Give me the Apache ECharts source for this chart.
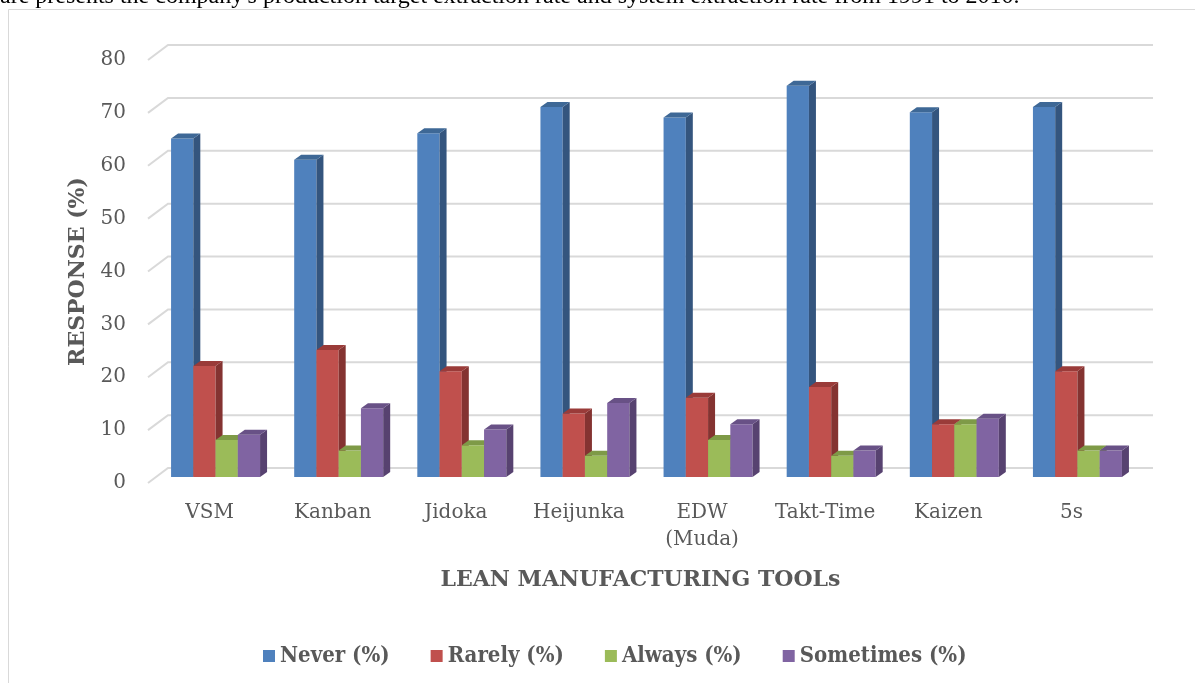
<!DOCTYPE html>
<html>
<head>
<meta charset="utf-8">
<script src="https://cdn.jsdelivr.net/npm/echarts@6/dist/echarts.min.js"></script>
<style>
  html, body { margin: 0; padding: 0; background: #fff; }
  #main { width: 1195px; height: 683px; }
</style>
</head>
<body>
<div id="main"></div>
<script>
// data
var categories = ['VSM', 'Kanban', 'Jidoka', 'Heijunka', 'EDW\n(Muda)', 'Takt-Time', 'Kaizen', '5s'];
var never     = [64, 60, 65, 70, 68, 74, 69, 70];
var rarely    = [21, 24, 20, 12, 15, 17, 10, 20];
var always    = [7, 5, 6, 4, 7, 4, 10, 5];
var sometimes = [8, 13, 9, 14, 10, 5, 11, 5];
var yTicks    = [0, 10, 20, 30, 40, 50, 60, 70, 80];
var seriesNames = ['Never (%)', 'Rarely (%)', 'Always (%)', 'Sometimes (%)'];

var gray = '#595959';
var serif = '"DejaVu Serif", serif';
var chart = echarts.init(document.getElementById('main'));

// 3d-ish column, like the excel one
function bar3d(idx, front, side, top) {
  return function (params, api) {
    var cat = api.value(0), v = api.value(1);
    var base = api.coord([cat, 0]), tp = api.coord([cat, v]);
    var bw = 22.25, dx = 7, dy = -5;
    var x0 = base[0] + 6 - 2 * bw + idx * bw;
    var yb = base[1] - 6, yt = tp[1] - 6;
    return {
      type: 'group',
      children: [{
        type: 'rect',
        shape: { x: x0, y: yt, width: bw, height: yb - yt },
        style: { fill: front }
      }, {
        type: 'polygon',
        shape: { points: [[x0 + bw, yb], [x0 + bw + dx, yb + dy], [x0 + bw + dx, yt + dy], [x0 + bw, yt]] },
        style: { fill: side }
      }, {
        type: 'polygon',
        shape: { points: [[x0, yt], [x0 + dx, yt + dy], [x0 + bw + dx, yt + dy], [x0 + bw, yt]] },
        style: { fill: top }
      }]
    };
  };
}

function makeData(arr) {
  return arr.map(function (v, i) { return [i, v]; });
}

var colors = [
  ['#4F81BD', '#34557E', '#3E6896'],
  ['#C0504D', '#843331', '#9A3B39'],
  ['#9BBB59', '#6F873D', '#7E9A47'],
  ['#8064A2', '#574270', '#685186']
];
var values = [never, rarely, always, sometimes];

var series = [{
  // back wall gridlines + the little diagonals on the left
  type: 'custom',
  name: 'grid',
  z: 1,
  silent: true,
  data: yTicks.map(function (t) { return [0, t]; }),
  renderItem: function (params, api) {
    var cs = params.coordSys;
    var y = api.coord([0, api.value(1)])[1];
    return {
      type: 'polyline',
      shape: { points: [[cs.x, y], [cs.x + 20, y - 15], [cs.x + cs.width + 20, y - 15]] },
      style: { stroke: '#D9D9D9', lineWidth: 2, fill: null }
    };
  }
}];

seriesNames.forEach(function (name, i) {
  series.push({
    type: 'custom',
    name: name,
    z: 2 + i,
    itemStyle: { color: colors[i][0] },
    data: makeData(values[i]),
    renderItem: bar3d(i, colors[i][0], colors[i][1], colors[i][2])
  });
});

chart.setOption({
  animation: false,
  backgroundColor: '#fff',
  graphic: [{
    type: 'text',
    z: 0,
    left: 0,
    top: -15,
    style: {
      text: "are presents the company's production target extraction rate and system extraction rate from 1991 to 2010.",
      font: '24px "Liberation Serif", serif',
      fill: '#000'
    }
  }, {
    type: 'rect',
    z: 0,
    zlevel: 0,
    shape: { x: 8.5, y: 9.5, width: 1200, height: 700 },
    style: { fill: '#fff', stroke: '#D9D9D9', lineWidth: 1 }
  }],
  legend: {
    data: seriesNames,
    left: 258,
    top: 640,
    icon: 'rect',
    itemWidth: 12,
    itemHeight: 12,
    itemGap: 41,
    textStyle: {
      color: gray,
      fontSize: 22,
      fontWeight: 'bold',
      fontFamily: '"DejaVu Serif Condensed", "DejaVu Serif", serif'
    }
  },
  grid: {
    left: 148,
    right: 62,
    top: 60,
    bottom: 200,
    containLabel: false
  },
  xAxis: {
    type: 'category',
    data: categories,
    name: 'LEAN MANUFACTURING TOOLs',
    nameLocation: 'middle',
    nameGap: 86,
    nameTextStyle: { color: gray, fontSize: 22, fontWeight: 'bold', fontFamily: serif },
    axisLine: { show: false },
    axisTick: { show: false },
    axisLabel: {
      color: gray,
      fontSize: 20,
      lineHeight: 27,
      margin: 16,
      interval: 0,
      fontFamily: serif
    }
  },
  yAxis: {
    type: 'value',
    min: 0,
    max: 80,
    interval: 10,
    name: 'RESPONSE (%)',
    nameLocation: 'middle',
    nameRotate: 90,
    nameGap: 58,
    nameTextStyle: { color: gray, fontSize: 22, fontWeight: 'bold', fontFamily: serif },
    axisLine: { show: false },
    axisTick: { show: false },
    splitLine: { show: false },
    axisLabel: { color: gray, fontSize: 20, margin: 22, fontFamily: serif }
  },
  series: series
});
</script>
</body>
</html>
